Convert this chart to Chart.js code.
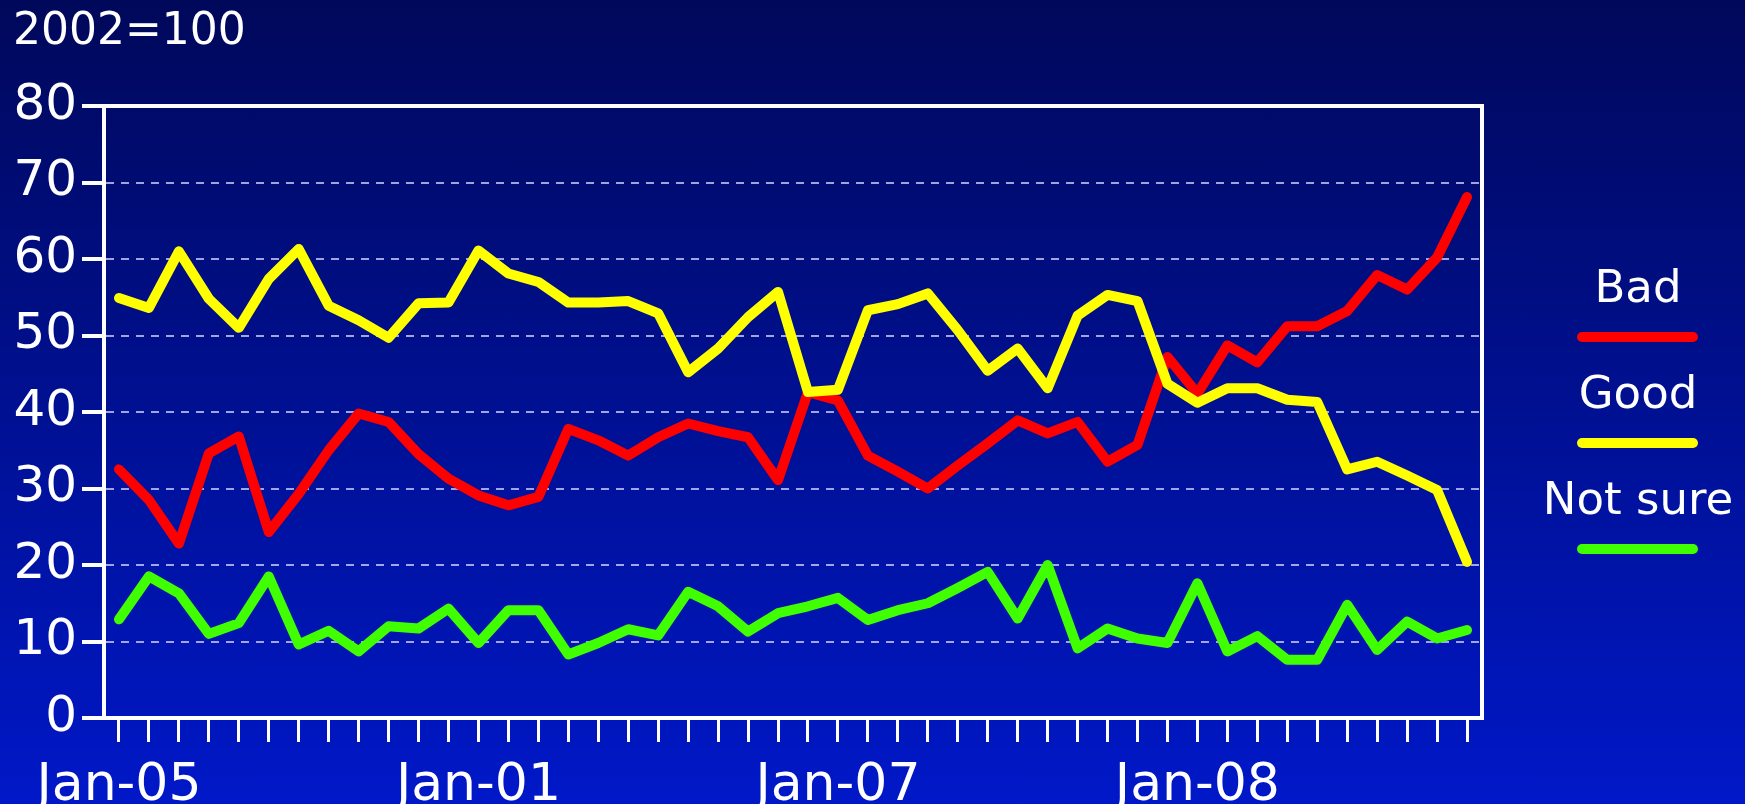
<!DOCTYPE html>
<html>
<head>
<meta charset="utf-8">
<script src="https://cdn.jsdelivr.net/npm/chart.js@4.4.0/dist/chart.umd.min.js"></script>
<style>
html,body{margin:0;padding:0;width:1745px;height:804px;overflow:hidden;
  background:linear-gradient(to bottom,#00085a 0%,#0018c8 100%);}
canvas{display:block;}
</style>
</head>
<body>
<canvas id="c" width="1745" height="804"></canvas>
<script>
const titleText = '2002=100';

const categories = [
  'Jan-05','','','','','','','','','','','',
  'Jan-01','','','','','','','','','','','',
  'Jan-07','','','','','','','','','','','',
  'Jan-08','','','','','','','','',''
];

const seriesNames = ['Bad', 'Good', 'Not sure'];

const badValues = [32.5, 28.5, 22.8, 34.6, 36.8, 24.3, 29.3, 35.0, 39.8, 38.7,
  34.5, 31.3, 29.1, 27.8, 28.9, 37.8, 36.3, 34.3, 36.7, 38.5,
  37.5, 36.7, 31.1, 42.6, 41.5, 34.3, 32.2, 30.0, 33.0, 35.9,
  38.9, 37.2, 38.7, 33.5, 35.7, 47.2, 42.4, 48.7, 46.5, 51.2,
  51.2, 53.2, 57.9, 56.0, 60.2, 68.1];

const goodValues = [54.9, 53.6, 61.0, 54.8, 51.0, 57.4, 61.3, 53.9, 52.0, 49.7,
  54.2, 54.3, 61.1, 58.1, 57.0, 54.3, 54.3, 54.5, 52.9, 45.2,
  48.3, 52.4, 55.7, 42.6, 42.9, 53.3, 54.1, 55.5, 50.7, 45.4,
  48.3, 43.1, 52.6, 55.3, 54.5, 43.7, 41.2, 43.1, 43.1, 41.6,
  41.3, 32.5, 33.5, 31.7, 29.8, 20.4];

const notSureValues = [12.9, 18.5, 16.3, 11.0, 12.4, 18.5, 9.6, 11.4, 8.7, 12.0,
  11.7, 14.3, 9.8, 14.1, 14.1, 8.3, 9.8, 11.6, 10.8, 16.5,
  14.6, 11.3, 13.7, 14.6, 15.7, 12.8, 14.1, 15.0, 17.0, 19.1,
  13.0, 20.0, 9.1, 11.7, 10.4, 9.8, 17.6, 8.7, 10.7, 7.6,
  7.6, 14.8, 8.9, 12.6, 10.4, 11.5];

const yMin = 0, yMax = 80, yStep = 10;

const FONT = '"DejaVu Sans", Verdana, sans-serif';

const decor = {
  id: 'decor',
  afterDraw(chart) {
    const {ctx, chartArea: a} = chart;
    ctx.save();
    // top and right frame
    ctx.strokeStyle = '#ffffff';
    ctx.lineWidth = 4;
    ctx.lineCap = 'square';
    ctx.beginPath();
    ctx.moveTo(a.left, a.top);
    ctx.lineTo(a.right, a.top);
    ctx.lineTo(a.right, a.bottom);
    ctx.stroke();
    // title
    ctx.fillStyle = '#ffffff';
    ctx.font = '44px ' + FONT;
    ctx.textAlign = 'left';
    ctx.textBaseline = 'alphabetic';
    ctx.fillText(titleText, 13, 44);
    // legend
    ctx.font = '45px ' + FONT;
    ctx.textAlign = 'center';
    chart.data.datasets.forEach((ds, i) => {
      const ly = 337 + i * 106;
      ctx.fillStyle = '#ffffff';
      ctx.fillText(ds.label, 1638, ly - 35);
      ctx.strokeStyle = ds.borderColor;
      ctx.lineWidth = 10;
      ctx.lineCap = 'round';
      ctx.beginPath();
      ctx.moveTo(1582, ly);
      ctx.lineTo(1693, ly);
      ctx.stroke();
    });
    ctx.restore();
  }
};

const lineStyle = {
  borderWidth: 10,
  pointRadius: 0,
  pointHoverRadius: 0,
  tension: 0,
  borderJoinStyle: 'round',
  borderCapStyle: 'round',
  fill: false
};

new Chart(document.getElementById('c'), {
  type: 'line',
  data: {
    labels: categories,
    datasets: [
      Object.assign({label: seriesNames[0], data: badValues, borderColor: '#ff0000', order: 1}, lineStyle),
      Object.assign({label: seriesNames[1], data: goodValues, borderColor: '#ffff00', order: 0}, lineStyle),
      Object.assign({label: seriesNames[2], data: notSureValues, borderColor: '#40ff00', order: 2}, lineStyle)
    ]
  },
  options: {
    responsive: false,
    animation: false,
    devicePixelRatio: 1,
    layout: {padding: {top: 106, right: 263, bottom: 0, left: 0}},
    plugins: {legend: {display: false}, tooltip: {enabled: false}, title: {display: false}},
    scales: {
      x: {
        offset: true,
        afterFit(scale) { scale.height = 86; },
        grid: {
          display: true,
          drawOnChartArea: false,
          drawTicks: true,
          tickLength: 24,
          tickWidth: 3,
          tickColor: '#ffffff',
          color: '#ffffff',
          offset: false
        },
        border: {display: true, color: '#ffffff', width: 4},
        ticks: {
          autoSkip: false,
          maxRotation: 0,
          minRotation: 0,
          padding: 13,
          color: '#ffffff',
          font: {family: FONT, size: 52}
        }
      },
      y: {
        min: yMin,
        max: yMax,
        afterFit(scale) { scale.width = 104; },
        grid: {
          color: 'rgba(215,215,255,0.75)',
          lineWidth: 2,
          drawTicks: true,
          tickLength: 22,
          tickWidth: 4,
          tickColor: '#ffffff',
          tickBorderDash: []
        },
        border: {display: true, color: '#ffffff', width: 4, dash: [8, 7]},
        ticks: {
          stepSize: yStep,
          padding: 5,
          color: '#ffffff',
          font: {family: FONT, size: 50}
        }
      }
    }
  },
  plugins: [decor]
});
</script>
</body>
</html>
